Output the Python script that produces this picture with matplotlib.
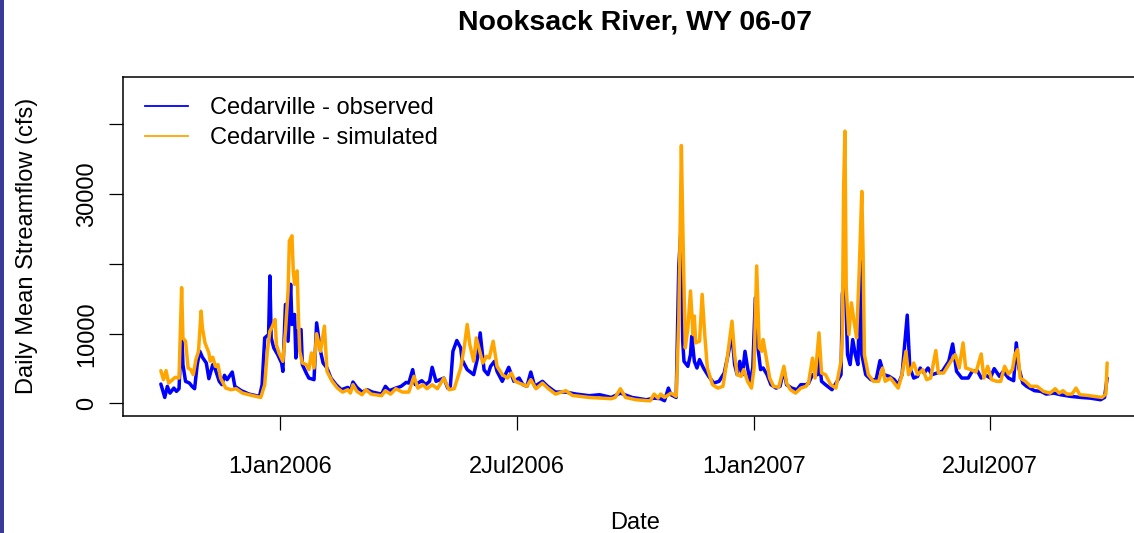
import numpy as np
import matplotlib
matplotlib.use("Agg")
import matplotlib.pyplot as plt
from matplotlib.lines import Line2D
from matplotlib.patches import Rectangle

plt.rcParams["font.family"] = ["Liberation Sans", "DejaVu Sans"]

# Water years 2006-2007 begin on 1 Oct 2005; x values are days since then
start_date = np.datetime64("2005-10-01")

obs_day = [0, 3, 5, 7, 10, 12, 14, 16, 17, 19, 22, 24, 26, 28, 30, 32, 35, 37, 40, 42,
           45, 47, 49, 51, 55, 57, 62, 68, 76, 78, 80, 83, 84, 85, 87, 90, 93, 94, 96, 98,
           100, 101, 103, 104, 105, 108, 109, 112, 114, 118, 120, 123, 125, 128, 131, 135,
           139, 144, 146, 148, 151, 155, 159, 163, 170, 173, 176, 181, 185, 189, 191, 194,
           196, 201, 204, 207, 209, 212, 215, 218, 221, 223, 225, 228, 231, 232, 236, 241,
           244, 246, 249, 252, 254, 257, 259, 263, 268, 272, 276, 279, 282, 285, 288, 294,
           298, 304, 312, 320, 330, 338, 347, 354, 363, 374, 380, 385, 388, 391, 393, 397,
           399, 401, 402, 403, 406, 408, 409, 411, 413, 415, 418, 422, 426, 430, 434, 437,
           440, 442, 444, 446, 448, 450, 452, 454, 456, 458, 460, 462, 464, 467, 470, 474,
           477, 480, 482, 486, 490, 493, 497, 499, 502, 506, 507, 509, 512, 517, 521, 524,
           525, 527, 529, 531, 533, 535, 537, 539, 540, 543, 547, 551, 554, 557, 561, 565,
           568, 571, 575, 577, 580, 583, 585, 588, 591, 594, 598, 602, 607, 610, 613, 617,
           622, 625, 629, 632, 635, 639, 642, 646, 649, 653, 657, 659, 661, 664, 667, 673,
           678, 682, 688, 693, 701, 709, 716, 724, 727, 729]
obs_cfs = [2780, 860, 2450, 1480, 2200, 1730, 2110, 10840, 5570, 3170, 2920, 2450, 2110, 5570,
           7480, 6620, 5800, 3550, 5570, 4850, 3170, 2690, 4030, 3410, 4500, 2450, 1830, 1340,
           1010, 2690, 9400, 9880, 18280, 9400, 7960, 7000, 5800, 4600, 14200, 8920, 17080,
           11320, 12760, 6520, 10360, 10600, 5570, 4360, 3640, 3410, 11550, 7480, 5800, 5080,
           3640, 2690, 1970, 2300, 1830, 3070, 2300, 1630, 1970, 1630, 1340, 2450, 1830, 2200,
           2450, 3020, 2920, 4850, 2690, 3260, 2690, 3170, 5180, 3170, 3410, 3640, 2200, 2450,
           7480, 9020, 7960, 6290, 4850, 4130, 6520, 10120, 4800, 4130, 5320, 6040, 4600, 3170,
           5180, 3170, 3640, 2690, 2450, 4500, 2450, 3170, 2450, 1630, 1630, 1340, 1110, 1250,
           860, 1480, 860, 530, 760, 680, 390, 2200, 1250, 860, 19700, 26000, 9000, 6040,
           5320, 7000, 9640, 6040, 5080, 6290, 5080, 3890, 2920, 3170, 4360, 7000, 9880, 5570,
           4130, 6040, 4130, 7480, 5080, 3170, 5080, 15150, 7960, 4850, 5080, 4130, 2690, 2200,
           2450, 4850, 2690, 2200, 1970, 2690, 2690, 2900, 4130, 4130, 6520, 3170, 2690, 1970,
           3170, 4130, 15640, 19000, 7000, 5570, 9160, 7000, 5570, 20430, 7000, 4130, 3410,
           3410, 6140, 4130, 3890, 3410, 2690, 4130, 12660, 5080, 3640, 3890, 5080, 4360, 5080,
           4130, 4360, 4600, 6040, 8530, 4600, 3640, 3640, 4600, 4700, 3640, 4130, 3640, 4990,
           3890, 4600, 3640, 3260, 8680, 5080, 2920, 2450, 1830, 1730, 1340, 1480, 1250, 1010,
           860, 760, 530, 860, 3640]

sim_day = [0, 2, 4, 6, 9, 11, 14, 16, 17, 19, 21, 23, 25, 27, 29, 31, 32, 34, 37, 38, 40, 42,
           44, 46, 50, 54, 58, 63, 71, 77, 80, 82, 84, 86, 88, 89, 91, 94, 96, 98, 99, 101,
           102, 103, 105, 106, 107, 109, 112, 114, 116, 118, 120, 123, 126, 128, 132, 136,
           140, 144, 146, 148, 151, 155, 158, 162, 170, 173, 177, 181, 186, 191, 195, 198,
           202, 205, 209, 213, 218, 222, 226, 231, 234, 236, 238, 241, 243, 245, 248, 251,
           253, 256, 259, 263, 267, 270, 273, 279, 282, 285, 289, 294, 298, 304, 312, 317,
           330, 340, 347, 350, 354, 358, 366, 375, 377, 380, 383, 385, 388, 393, 397, 399,
           401, 402, 404, 406, 408, 410, 411, 412, 415, 417, 419, 421, 425, 429, 433, 436,
           440, 442, 444, 447, 449, 452, 455, 457, 459, 461, 463, 464, 466, 469, 472, 476,
           480, 482, 485, 489, 493, 497, 499, 502, 504, 507, 509, 512, 516, 520, 524, 525,
           526, 527, 528, 530, 532, 534, 536, 538, 540, 541, 542, 545, 549, 553, 556, 558,
           562, 565, 568, 571, 574, 576, 580, 583, 587, 590, 593, 597, 599, 603, 607, 612,
           615, 618, 620, 624, 628, 632, 634, 637, 640, 644, 647, 650, 653, 656, 658, 660,
           662, 666, 670, 675, 680, 685, 689, 692, 695, 698, 702, 705, 708, 714, 719, 725,
           728, 729]
sim_cfs = [4700, 3410, 4700, 2920, 3410, 3740, 3640, 16600, 9400, 8920, 5080, 4850, 4130, 6290,
           7480, 13240, 10840, 8680, 7240, 6040, 6620, 5320, 5570, 3640, 2200, 1970, 2110, 1480,
           1110, 860, 2690, 7480, 10360, 11080, 12040, 8440, 7240, 6040, 10360, 16120, 23300,
           24030, 19000, 17080, 19000, 12280, 7480, 5800, 5570, 4850, 7240, 5080, 10000, 7480,
           11080, 4600, 3170, 2200, 1630, 1970, 1480, 2690, 1730, 1250, 1970, 1340, 1110, 1830,
           1340, 2110, 1630, 1630, 3890, 2200, 2690, 2110, 2690, 2110, 3640, 1970, 2110, 5080,
           8440, 11320, 8440, 6040, 9400, 7960, 5800, 6760, 6520, 8920, 5320, 4130, 3640, 4360,
           3170, 2690, 2450, 3410, 2110, 2920, 2200, 1340, 1830, 1150, 860, 760, 680, 860, 2110,
           860, 530, 390, 390, 1340, 760, 1340, 860, 1480, 1010, 11800, 36980, 26190, 7960,
           10840, 16120, 9880, 12520, 8680, 8920, 15640, 9880, 5080, 2690, 2200, 2450, 6040,
           11800, 7000, 4130, 3890, 4850, 3170, 2200, 5080, 19710, 7960, 7480, 9160, 7000, 3640,
           2450, 2300, 5320, 2920, 1970, 1480, 2200, 2450, 3000, 6500, 3640, 10120, 4360, 4130,
           2690, 2200, 6040, 9880, 30980, 39040, 16600, 9880, 14430, 11800, 9400, 19000, 30400,
           21400, 7000, 4130, 3170, 3170, 5080, 3170, 3640, 2920, 2200, 4130, 7480, 4130, 5800,
           4130, 4850, 3410, 3640, 7580, 4360, 4360, 5570, 7000, 5080, 8680, 5080, 4850, 4500,
           7100, 3640, 5320, 3410, 3170, 3170, 5320, 4220, 4850, 7000, 7720, 3640, 3170, 2450,
           2450, 1730, 1480, 2110, 1480, 1830, 1340, 1340, 2200, 1250, 1150, 1010, 860, 1340,
           5800]

series_labels = ["Cedarville - observed", "Cedarville - simulated"]
series_colors = ["#0000FF", "#FFA500"]

tick_dates = ["2006-01-01", "2006-07-02", "2007-01-01", "2007-07-02"]
tick_labels = ["1Jan2006", "2Jul2006", "1Jan2007", "2Jul2007"]
y_ticks = [0, 10000, 20000, 30000, 40000]
y_tick_labels = ["0", "10000", "", "30000", ""]

W, H = 1134, 533
fig = plt.figure(figsize=(W / 100, H / 100), dpi=100)
fig.patch.set_facecolor("white")

# narrow slide-coloured strip down the left edge
fig.patches.append(Rectangle((0, 0), 4 / W, 1, transform=fig.transFigure,
                             facecolor="#3a3a98", edgecolor="none"))

ax = fig.add_axes([123 / W, 1 - 416 / H, 1022 / W, 339 / H])

obs_x = start_date + np.array(obs_day).astype("timedelta64[D]")
sim_x = start_date + np.array(sim_day).astype("timedelta64[D]")

ax.plot(obs_x, obs_cfs, color=series_colors[0], lw=2.5,
        solid_joinstyle="round", solid_capstyle="round")
ax.plot(sim_x, sim_cfs, color=series_colors[1], lw=2.5,
        solid_joinstyle="round", solid_capstyle="round")

span = 729
pad = span * 0.04
ax.set_xlim(start_date - np.timedelta64(int(round(pad * 24)), "h"),
            start_date + np.timedelta64(int(round((span + pad) * 24)), "h"))
ax.set_ylim(-1800, 46800)

ax.set_xticks([np.datetime64(d) for d in tick_dates])
ax.set_xticklabels(tick_labels)
ax.set_yticks(y_ticks)
ax.set_yticklabels(y_tick_labels, rotation=90, va="center")

ax.tick_params(axis="x", length=10, width=0.9, pad=19, labelsize=17, color="black")
ax.tick_params(axis="y", length=10, width=0.9, pad=8, labelsize=17, color="black")
for s in ax.spines.values():
    s.set_linewidth(1.1)
    s.set_color("black")

fig.text(635 / W, 1 - 23 / H, "Nooksack River, WY 06-07", ha="center", va="center",
         fontsize=20.5, fontweight="bold")
fig.text(27 / W, 1 - 246 / H, "Daily Mean Streamflow (cfs)", rotation=90,
         ha="center", va="center", fontsize=17)
fig.text(635 / W, 1 - 523 / H, "Date", ha="center", va="center", fontsize=17)

handles = [Line2D([], [], color=c, lw=1.3) for c in series_colors]
ax.legend(handles, series_labels, loc="upper left",
          bbox_to_anchor=(145 / W, 1 - 97 / H), bbox_transform=fig.transFigure,
          frameon=False, fontsize=17, borderpad=0, borderaxespad=0,
          handlelength=1.8, handletextpad=0.95, labelspacing=0.33)

fig.savefig("out.png", dpi=100)
